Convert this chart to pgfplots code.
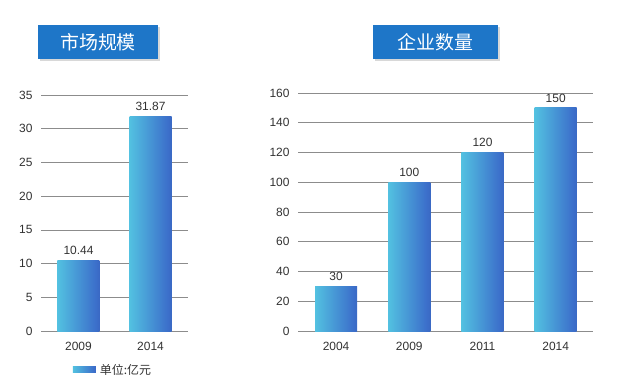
\documentclass[border=0pt]{standalone}
\usepackage{fontspec}
\setmainfont{Liberation Sans}
\newfontfamily\cjk{Noto Sans CJK SC}
\usepackage{pgfplots}
\pgfplotsset{compat=1.18}
\usetikzlibrary{shadows}

\definecolor{titleblue}{RGB}{30,118,200}
\definecolor{gridgray}{RGB}{140,140,140}
\definecolor{txtgray}{RGB}{50,50,50}
\definecolor{ca}{RGB}{62,165,222}
\definecolor{cb}{RGB}{84,198,226}
\definecolor{cc}{RGB}{60,112,203}
\definecolor{cd}{RGB}{48,68,160}
\pgfdeclarehorizontalshading{barshade}{100bp}{color(0bp)=(ca); color(22bp)=(cb); color(70bp)=(cc); color(100bp)=(cd)}

\pgfplotsset{
  mybars/.style={
    scale only axis,
    axis line style={draw=none},
    ymin=0,
    ymajorgrids,
    grid style={gridgray, line width=0.6bp},
    major tick length=0pt,
    tick style={draw=none},
    /pgf/number format/assume math mode=true,
    ticklabel style={font=\fontsize{12}{14}\selectfont, text=txtgray},
    xticklabel style={yshift=-8bp},
    yticklabel style={xshift=-5bp},
    nodes near coords,
    nodes near coords style={font=\fontsize{12}{14}\selectfont, text=txtgray, yshift=2bp},
    bar width=42bp,
  },
  onebar/.style={ybar, bar shift=0pt, draw=none, shading=barshade},
}

\begin{document}
\begin{tikzpicture}[x=1bp,y=1bp]
\path[use as bounding box] (0,0) rectangle (620,384);

\begin{axis}[mybars,
  at={(41bp,53bp)}, anchor=south west,
  width=147bp, height=236bp,
  ymax=35, ytick={0,5,...,35},
  xmin=-0.52, xmax=1.52,
  xtick={0,1}, xticklabels={2009,2014},
  nodes near coords={\pgfmathprintnumber[fixed,fixed zerofill,precision=2]{\pgfplotspointmeta}},
  legend style={at={(0.195,-0.165)}, anchor=west, draw=none, fill=none,
    font=\cjk\fontsize{12}{14}\selectfont, text=txtgray},
  legend image code/.code={\shade[shading=barshade] (0bp,-3bp) rectangle (23bp,3bp); \path (25bp,0bp);},
]
\addplot[onebar] coordinates {(0,10.44)};
\addlegendentry{单位:亿元}
\addplot[onebar, forget plot] coordinates {(1,31.87)};
\end{axis}

\begin{axis}[mybars,
  at={(298bp,53bp)}, anchor=south west,
  width=295bp, height=238bp,
  ymax=160, ytick={0,20,...,160},
  xmin=-0.52, xmax=3.51,
  xtick={0,1,2,3}, xticklabels={2004,2009,2011,2014},
]
\addplot[onebar] coordinates {(0,30)};
\addplot[onebar] coordinates {(1,100)};
\addplot[onebar] coordinates {(2,120)};
\addplot[onebar] coordinates {(3,150)};
\end{axis}

\node[fill=titleblue, minimum width=120bp, minimum height=34bp, inner sep=0pt,
  drop shadow={shadow xshift=2bp, shadow yshift=-2bp, fill=black!30},
  text=white, font=\cjk\fontsize{19}{21}\selectfont] at (98,342) {市场规模};
\node[fill=titleblue, minimum width=125bp, minimum height=34bp, inner sep=0pt,
  drop shadow={shadow xshift=2bp, shadow yshift=-2bp, fill=black!30},
  text=white, font=\cjk\fontsize{19}{21}\selectfont] at (435.5,342) {企业数量};
\end{tikzpicture}
\end{document}
